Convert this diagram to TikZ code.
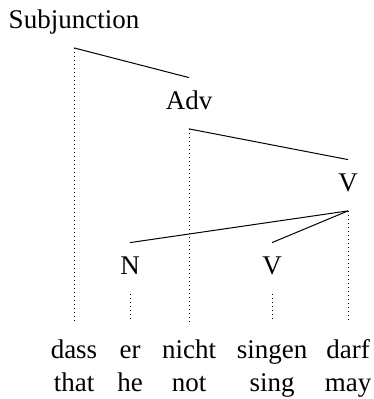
\documentclass[tikz,border=0pt]{standalone}
\usepackage{fontspec}
\setmainfont{Liberation Serif}
\usetikzlibrary{positioning}
\tikzset{
  cat/.style={font=\fontsize{13.5}{16}\selectfont,inner sep=0pt,text height=16pt,text depth=9.25pt,anchor=base},
  word/.style={font=\fontsize{13.5}{16}\selectfont,inner sep=0pt,text height=18pt,text depth=3pt,anchor=base},
  gloss/.style={font=\fontsize{13.5}{16}\selectfont,inner sep=0pt,anchor=base},
  edge/.style={draw=black,line width=0.5pt},
  proj/.style={draw=black,line width=0.5pt,dash pattern=on 0.45pt off 1.55pt}
}
\begin{document}
\begin{tikzpicture}[x=0.5pt,y=-0.5pt]
\useasboundingbox (0,0) rectangle (373,399);
% categories
\node[cat] (subj) at (74,29) {Subjunction};
\node[cat] (adv) at (189,110) {Adv};
\node[cat] (vfin) at (348,192) {V};
\node[cat] (n) at (130,275) {N};
\node[cat] (vinf) at (272,275) {V};
% words and glosses
\node[word] (dass) at (74,358) {dass};
\node[word] (er) at (130,358) {er};
\node[word] (nicht) at (189,358) {nicht};
\node[word] (singen) at (272,358) {singen};
\node[word] (darf) at (348,358) {darf};
\node[gloss] (that) at (74,391) {that};
\node[gloss] (he) at (130,391) {he};
\node[gloss] (not) at (189,391) {not};
\node[gloss] (sing) at (272,391) {sing};
\node[gloss] (may) at (348,391) {may};
% dependencies
\draw[edge] (subj.south) -- (adv.north);
\draw[edge] (adv.south) -- (vfin.north);
\draw[edge] (vfin.south) -- (n.north);
\draw[edge] (vfin.south) -- (vinf.north);
% projection lines
\draw[proj] (subj.south) -- (dass.north);
\draw[proj] (adv.south) -- (nicht.north);
\draw[proj] (vfin.south) -- (darf.north);
\draw[proj] (n.south) -- (er.north);
\draw[proj] (vinf.south) -- (singen.north);
\end{tikzpicture}
\end{document}
